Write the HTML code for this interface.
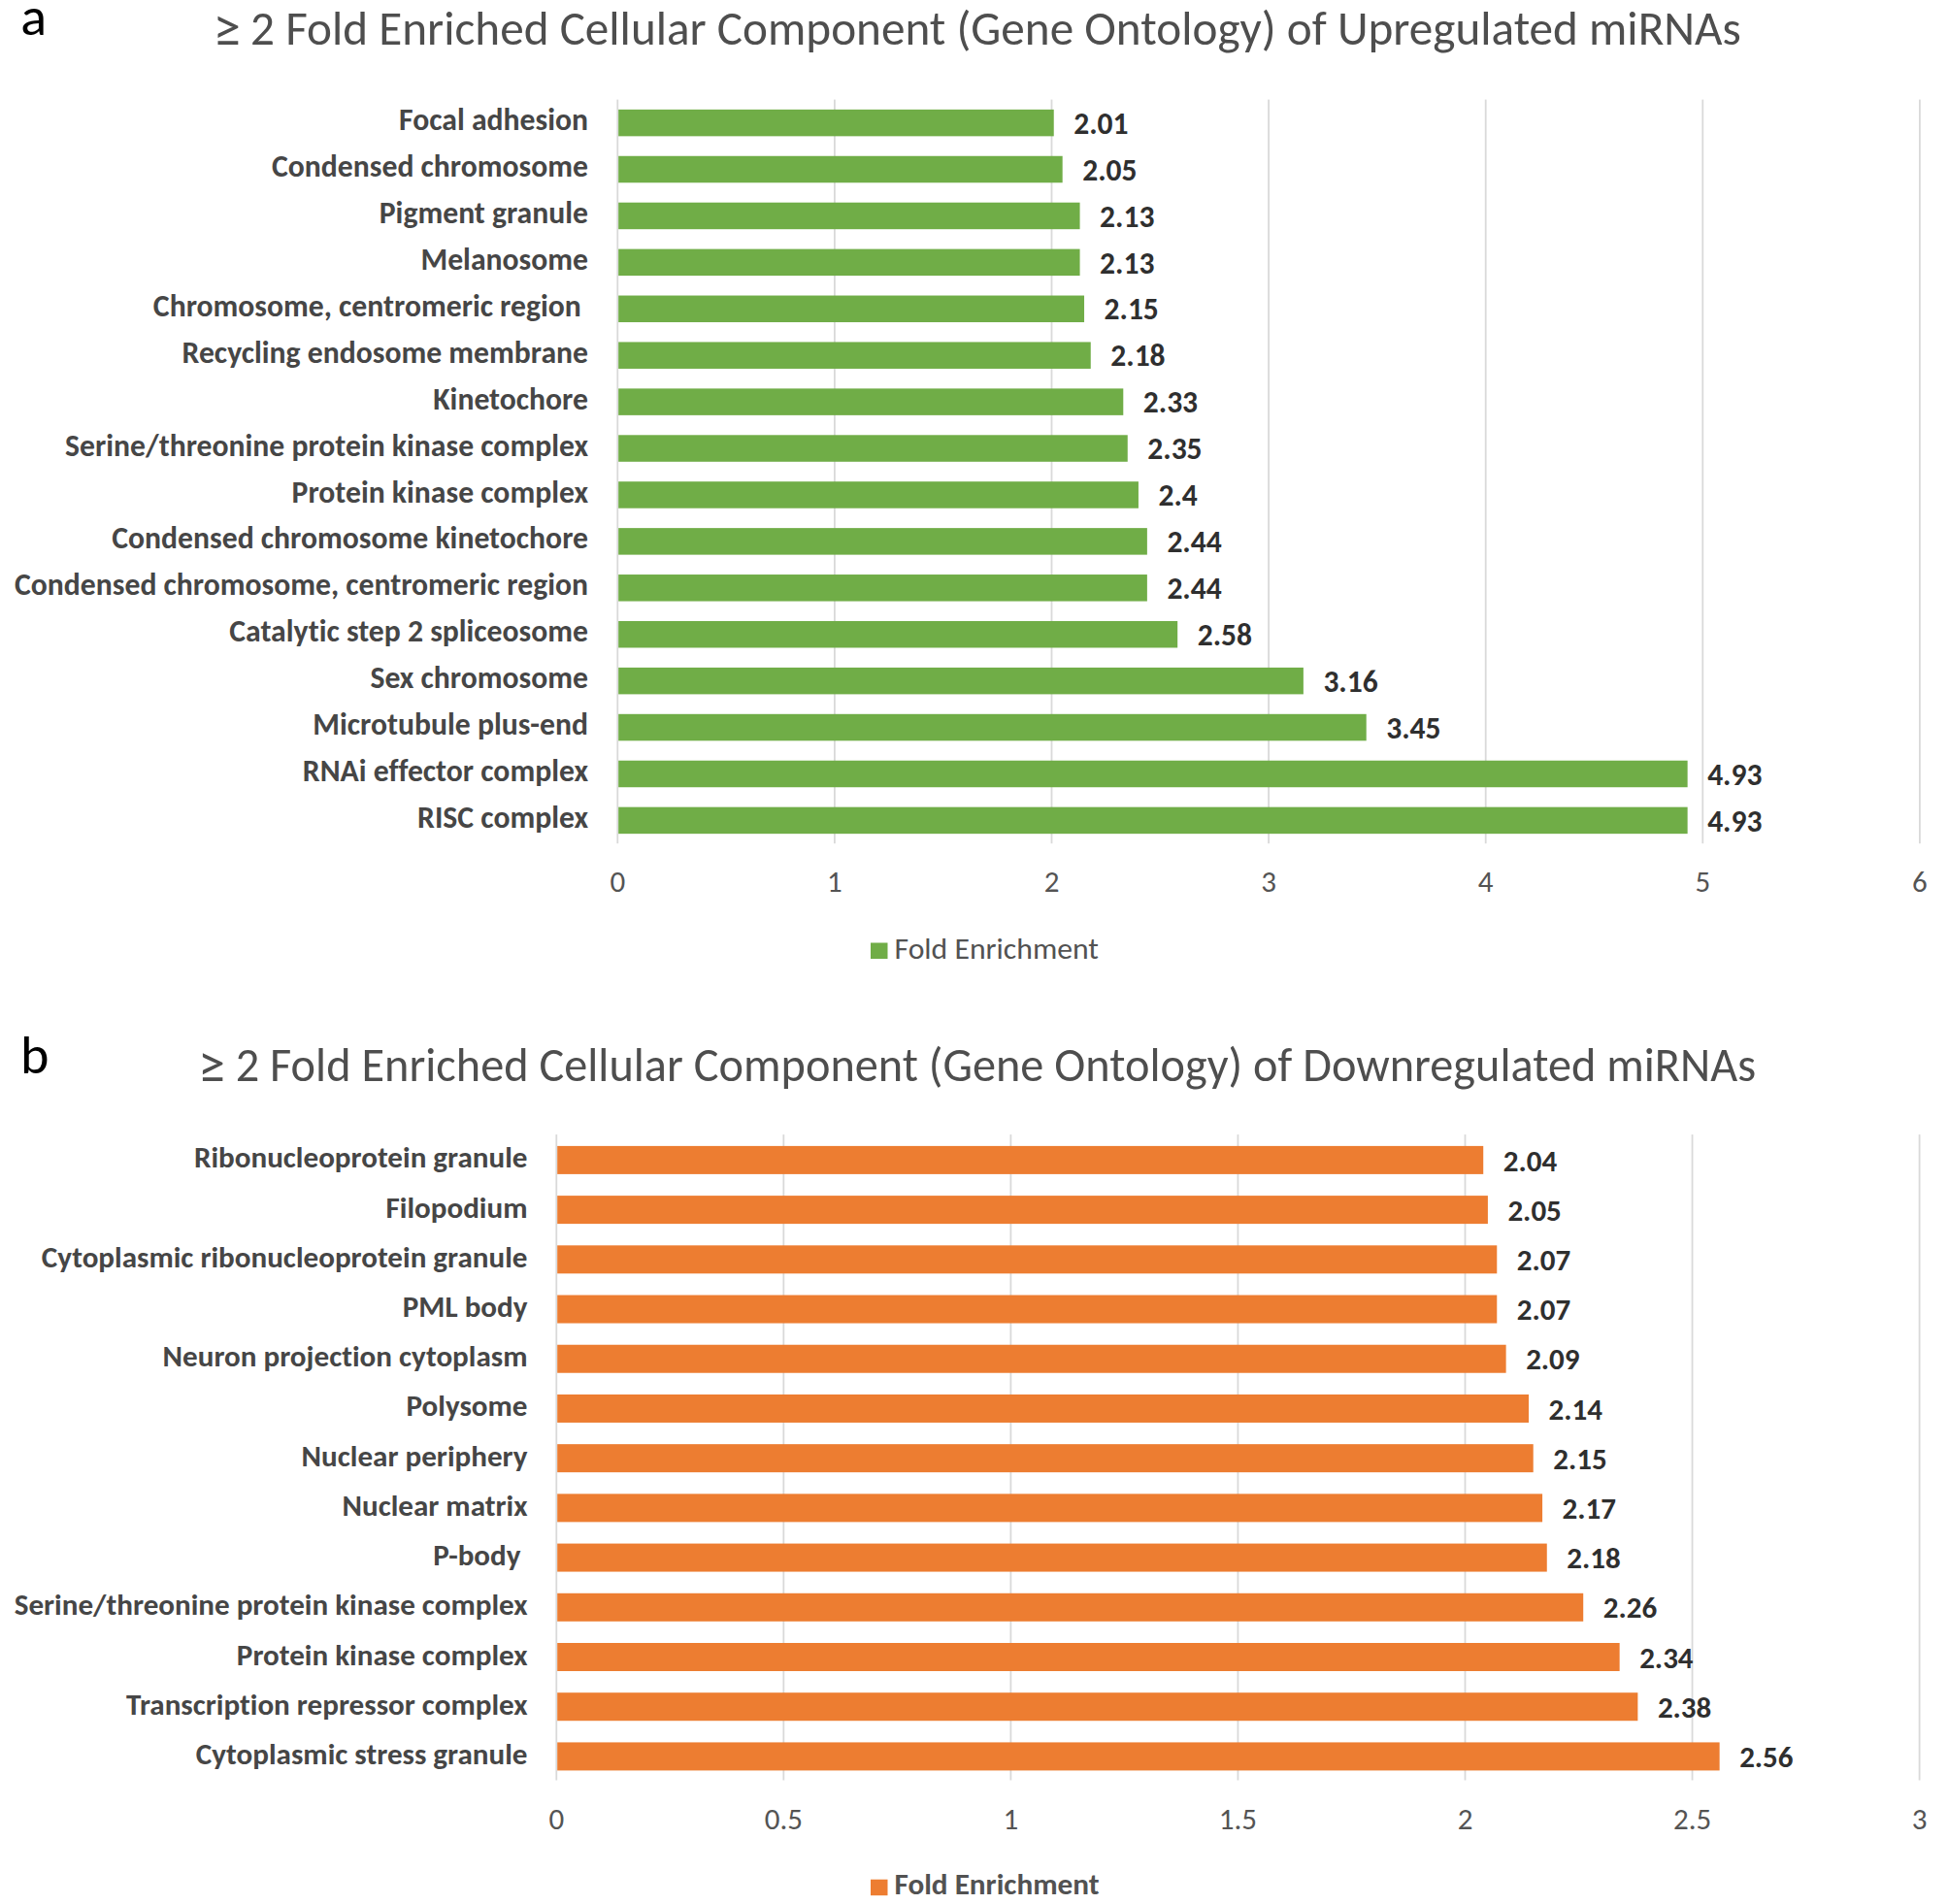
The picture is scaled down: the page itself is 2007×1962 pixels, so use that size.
<!DOCTYPE html>
<html><head><meta charset="utf-8"><title>Fold Enriched Cellular Component</title>
<style>
html,body{margin:0;padding:0;background:#fff;}
body{width:2007px;height:1962px;overflow:hidden;}
svg{display:block;}
text{font-family:Carlito, 'Liberation Sans', sans-serif;font-variant-ligatures:none;font-kerning:normal;}
.lbl{font-size:31px;font-weight:bold;fill:#464646;}
.val{font-size:31px;font-weight:bold;fill:#2f2f2f;}
.tick{font-size:31px;fill:#545454;}
.title{font-size:48px;fill:#4e4e4e;}
.leg{font-size:31px;fill:#525252;}
.panel{font-size:56px;fill:#000;}
</style></head>
<body>
<svg width="2007" height="1962" viewBox="0 0 2007 1962">
<rect width="2007" height="1962" fill="#fff"/>
<rect x="635.40" y="102.60" width="1.8" height="766.60" fill="#D9D9D9"/>
<rect x="859.00" y="102.60" width="1.8" height="766.60" fill="#D9D9D9"/>
<rect x="1082.60" y="102.60" width="1.8" height="766.60" fill="#D9D9D9"/>
<rect x="1306.20" y="102.60" width="1.8" height="766.60" fill="#D9D9D9"/>
<rect x="1529.80" y="102.60" width="1.8" height="766.60" fill="#D9D9D9"/>
<rect x="1753.40" y="102.60" width="1.8" height="766.60" fill="#D9D9D9"/>
<rect x="1977.00" y="102.60" width="1.8" height="766.60" fill="#D9D9D9"/>
<rect x="637.20" y="112.85" width="448.54" height="27.50" fill="#70AD47"/>
<text x="606.00" y="134.20" class="lbl" textLength="194.92" lengthAdjust="spacingAndGlyphs" style="font-size:31.7px" text-anchor="end" xml:space="preserve">Focal adhesion</text>
<text x="1106.24" y="137.80" class="val" textLength="56.31" lengthAdjust="spacingAndGlyphs" style="font-size:31.5px">2.01</text>
<rect x="637.20" y="160.77" width="457.48" height="27.50" fill="#70AD47"/>
<text x="606.00" y="182.12" class="lbl" textLength="325.94" lengthAdjust="spacingAndGlyphs" style="font-size:31.7px" text-anchor="end" xml:space="preserve">Condensed chromosome</text>
<text x="1115.18" y="185.72" class="val" textLength="56.31" lengthAdjust="spacingAndGlyphs" style="font-size:31.5px">2.05</text>
<rect x="637.20" y="208.69" width="475.37" height="27.50" fill="#70AD47"/>
<text x="606.00" y="230.04" class="lbl" textLength="215.25" lengthAdjust="spacingAndGlyphs" style="font-size:31.7px" text-anchor="end" xml:space="preserve">Pigment granule</text>
<text x="1133.07" y="233.64" class="val" textLength="56.31" lengthAdjust="spacingAndGlyphs" style="font-size:31.5px">2.13</text>
<rect x="637.20" y="256.61" width="475.37" height="27.50" fill="#70AD47"/>
<text x="606.00" y="277.96" class="lbl" textLength="172.53" lengthAdjust="spacingAndGlyphs" style="font-size:31.7px" text-anchor="end" xml:space="preserve">Melanosome</text>
<text x="1133.07" y="281.56" class="val" textLength="56.31" lengthAdjust="spacingAndGlyphs" style="font-size:31.5px">2.13</text>
<rect x="637.20" y="304.53" width="479.84" height="27.50" fill="#70AD47"/>
<text x="606.00" y="325.88" class="lbl" textLength="448.14" lengthAdjust="spacingAndGlyphs" style="font-size:31.7px" text-anchor="end" xml:space="preserve">Chromosome, centromeric region </text>
<text x="1137.54" y="329.48" class="val" textLength="56.31" lengthAdjust="spacingAndGlyphs" style="font-size:31.5px">2.15</text>
<rect x="637.20" y="352.45" width="486.55" height="27.50" fill="#70AD47"/>
<text x="606.00" y="373.80" class="lbl" textLength="418.45" lengthAdjust="spacingAndGlyphs" style="font-size:31.7px" text-anchor="end" xml:space="preserve">Recycling endosome membrane</text>
<text x="1144.25" y="377.40" class="val" textLength="56.31" lengthAdjust="spacingAndGlyphs" style="font-size:31.5px">2.18</text>
<rect x="637.20" y="400.37" width="520.09" height="27.50" fill="#70AD47"/>
<text x="606.00" y="421.72" class="lbl" textLength="159.73" lengthAdjust="spacingAndGlyphs" style="font-size:31.7px" text-anchor="end" xml:space="preserve">Kinetochore</text>
<text x="1177.79" y="425.32" class="val" textLength="56.31" lengthAdjust="spacingAndGlyphs" style="font-size:31.5px">2.33</text>
<rect x="637.20" y="448.29" width="524.56" height="27.50" fill="#70AD47"/>
<text x="606.00" y="469.64" class="lbl" textLength="538.88" lengthAdjust="spacingAndGlyphs" style="font-size:31.7px" text-anchor="end" xml:space="preserve">Serine/threonine protein kinase complex</text>
<text x="1182.26" y="473.24" class="val" textLength="56.31" lengthAdjust="spacingAndGlyphs" style="font-size:31.5px">2.35</text>
<rect x="637.20" y="496.21" width="535.74" height="27.50" fill="#70AD47"/>
<text x="606.00" y="517.56" class="lbl" textLength="305.41" lengthAdjust="spacingAndGlyphs" style="font-size:31.7px" text-anchor="end" xml:space="preserve">Protein kinase complex</text>
<text x="1193.44" y="521.16" class="val" textLength="40.36" lengthAdjust="spacingAndGlyphs" style="font-size:31.5px">2.4</text>
<rect x="637.20" y="544.13" width="544.68" height="27.50" fill="#70AD47"/>
<text x="606.00" y="565.48" class="lbl" textLength="490.70" lengthAdjust="spacingAndGlyphs" style="font-size:31.7px" text-anchor="end" xml:space="preserve">Condensed chromosome kinetochore</text>
<text x="1202.38" y="569.08" class="val" textLength="56.31" lengthAdjust="spacingAndGlyphs" style="font-size:31.5px">2.44</text>
<rect x="637.20" y="592.05" width="544.68" height="27.50" fill="#70AD47"/>
<text x="606.00" y="613.40" class="lbl" textLength="590.98" lengthAdjust="spacingAndGlyphs" style="font-size:31.7px" text-anchor="end" xml:space="preserve">Condensed chromosome, centromeric region</text>
<text x="1202.38" y="617.00" class="val" textLength="56.31" lengthAdjust="spacingAndGlyphs" style="font-size:31.5px">2.44</text>
<rect x="637.20" y="639.97" width="575.99" height="27.50" fill="#70AD47"/>
<text x="606.00" y="661.32" class="lbl" textLength="369.67" lengthAdjust="spacingAndGlyphs" style="font-size:31.7px" text-anchor="end" xml:space="preserve">Catalytic step 2 spliceosome</text>
<text x="1233.69" y="664.92" class="val" textLength="56.31" lengthAdjust="spacingAndGlyphs" style="font-size:31.5px">2.58</text>
<rect x="637.20" y="687.89" width="705.68" height="27.50" fill="#70AD47"/>
<text x="606.00" y="709.24" class="lbl" textLength="224.56" lengthAdjust="spacingAndGlyphs" style="font-size:31.7px" text-anchor="end" xml:space="preserve">Sex chromosome</text>
<text x="1363.38" y="712.84" class="val" textLength="56.31" lengthAdjust="spacingAndGlyphs" style="font-size:31.5px">3.16</text>
<rect x="637.20" y="735.81" width="770.52" height="27.50" fill="#70AD47"/>
<text x="606.00" y="757.16" class="lbl" textLength="283.64" lengthAdjust="spacingAndGlyphs" style="font-size:31.7px" text-anchor="end" xml:space="preserve">Microtubule plus-end</text>
<text x="1428.22" y="760.76" class="val" textLength="56.31" lengthAdjust="spacingAndGlyphs" style="font-size:31.5px">3.45</text>
<rect x="637.20" y="783.73" width="1101.45" height="27.50" fill="#70AD47"/>
<text x="606.00" y="805.08" class="lbl" textLength="294.16" lengthAdjust="spacingAndGlyphs" style="font-size:31.7px" text-anchor="end" xml:space="preserve">RNAi effector complex</text>
<text x="1759.15" y="808.68" class="val" textLength="56.31" lengthAdjust="spacingAndGlyphs" style="font-size:31.5px">4.93</text>
<rect x="637.20" y="831.65" width="1101.45" height="27.50" fill="#70AD47"/>
<text x="606.00" y="853.00" class="lbl" textLength="175.92" lengthAdjust="spacingAndGlyphs" style="font-size:31.7px" text-anchor="end" xml:space="preserve">RISC complex</text>
<text x="1759.15" y="856.60" class="val" textLength="56.31" lengthAdjust="spacingAndGlyphs" style="font-size:31.5px">4.93</text>
<text x="636.30" y="919.20" class="tick" textLength="15.72" lengthAdjust="spacingAndGlyphs" text-anchor="middle">0</text>
<text x="859.90" y="919.20" class="tick" textLength="15.72" lengthAdjust="spacingAndGlyphs" text-anchor="middle">1</text>
<text x="1083.50" y="919.20" class="tick" textLength="15.72" lengthAdjust="spacingAndGlyphs" text-anchor="middle">2</text>
<text x="1307.10" y="919.20" class="tick" textLength="15.72" lengthAdjust="spacingAndGlyphs" text-anchor="middle">3</text>
<text x="1530.70" y="919.20" class="tick" textLength="15.72" lengthAdjust="spacingAndGlyphs" text-anchor="middle">4</text>
<text x="1754.30" y="919.20" class="tick" textLength="15.72" lengthAdjust="spacingAndGlyphs" text-anchor="middle">5</text>
<text x="1977.90" y="919.20" class="tick" textLength="15.72" lengthAdjust="spacingAndGlyphs" text-anchor="middle">6</text>
<text class="title" xml:space="preserve" style="font-size:49.2px"><tspan textLength="41.28" lengthAdjust="spacingAndGlyphs" x="219.60" y="48.00" style="font-size:57px">≥ </tspan><tspan textLength="1535.70" lengthAdjust="spacingAndGlyphs" x="258.10" y="45.70">2 Fold Enriched Cellular Component (Gene Ontology) of Upregulated miRNAs</tspan></text>
<text x="21.20" y="36.40" class="panel" textLength="26.83" lengthAdjust="spacingAndGlyphs">a</text>
<rect x="897" y="971.50" width="17.5" height="16.5" fill="#70AD47"/>
<text x="921.5" y="987.70" class="leg" textLength="210.47" lengthAdjust="spacingAndGlyphs" style="font-size:31.7px" font-weight="normal">Fold Enrichment</text>
<rect x="572.40" y="1169.10" width="1.8" height="665.40" fill="#D9D9D9"/>
<rect x="806.45" y="1169.10" width="1.8" height="665.40" fill="#D9D9D9"/>
<rect x="1040.50" y="1169.10" width="1.8" height="665.40" fill="#D9D9D9"/>
<rect x="1274.55" y="1169.10" width="1.8" height="665.40" fill="#D9D9D9"/>
<rect x="1508.60" y="1169.10" width="1.8" height="665.40" fill="#D9D9D9"/>
<rect x="1742.65" y="1169.10" width="1.8" height="665.40" fill="#D9D9D9"/>
<rect x="1976.70" y="1169.10" width="1.8" height="665.40" fill="#D9D9D9"/>
<rect x="574.20" y="1180.90" width="954.02" height="29.00" fill="#ED7D31"/>
<text x="543.50" y="1203.40" class="lbl" textLength="343.55" lengthAdjust="spacingAndGlyphs" style="font-size:31.1px" text-anchor="end" xml:space="preserve">Ribonucleoprotein granule</text>
<text x="1548.72" y="1206.60" class="val" textLength="55.42" lengthAdjust="spacingAndGlyphs" style="font-size:31.0px">2.04</text>
<rect x="574.20" y="1232.11" width="958.71" height="29.00" fill="#ED7D31"/>
<text x="543.50" y="1254.61" class="lbl" textLength="145.97" lengthAdjust="spacingAndGlyphs" style="font-size:31.1px" text-anchor="end" xml:space="preserve">Filopodium</text>
<text x="1553.40" y="1257.81" class="val" textLength="55.42" lengthAdjust="spacingAndGlyphs" style="font-size:31.0px">2.05</text>
<rect x="574.20" y="1283.32" width="968.07" height="29.00" fill="#ED7D31"/>
<text x="543.50" y="1305.82" class="lbl" textLength="500.67" lengthAdjust="spacingAndGlyphs" style="font-size:31.1px" text-anchor="end" xml:space="preserve">Cytoplasmic ribonucleoprotein granule</text>
<text x="1562.77" y="1309.02" class="val" textLength="55.42" lengthAdjust="spacingAndGlyphs" style="font-size:31.0px">2.07</text>
<rect x="574.20" y="1334.53" width="968.07" height="29.00" fill="#ED7D31"/>
<text x="543.50" y="1357.03" class="lbl" textLength="128.72" lengthAdjust="spacingAndGlyphs" style="font-size:31.1px" text-anchor="end" xml:space="preserve">PML body</text>
<text x="1562.77" y="1360.23" class="val" textLength="55.42" lengthAdjust="spacingAndGlyphs" style="font-size:31.0px">2.07</text>
<rect x="574.20" y="1385.74" width="977.43" height="29.00" fill="#ED7D31"/>
<text x="543.50" y="1408.24" class="lbl" textLength="375.91" lengthAdjust="spacingAndGlyphs" style="font-size:31.1px" text-anchor="end" xml:space="preserve">Neuron projection cytoplasm</text>
<text x="1572.13" y="1411.44" class="val" textLength="55.42" lengthAdjust="spacingAndGlyphs" style="font-size:31.0px">2.09</text>
<rect x="574.20" y="1436.95" width="1000.83" height="29.00" fill="#ED7D31"/>
<text x="543.50" y="1459.45" class="lbl" textLength="125.00" lengthAdjust="spacingAndGlyphs" style="font-size:31.1px" text-anchor="end" xml:space="preserve">Polysome</text>
<text x="1595.53" y="1462.65" class="val" textLength="55.42" lengthAdjust="spacingAndGlyphs" style="font-size:31.0px">2.14</text>
<rect x="574.20" y="1488.16" width="1005.51" height="29.00" fill="#ED7D31"/>
<text x="543.50" y="1510.66" class="lbl" textLength="232.88" lengthAdjust="spacingAndGlyphs" style="font-size:31.1px" text-anchor="end" xml:space="preserve">Nuclear periphery</text>
<text x="1600.21" y="1513.86" class="val" textLength="55.42" lengthAdjust="spacingAndGlyphs" style="font-size:31.0px">2.15</text>
<rect x="574.20" y="1539.37" width="1014.88" height="29.00" fill="#ED7D31"/>
<text x="543.50" y="1561.87" class="lbl" textLength="191.02" lengthAdjust="spacingAndGlyphs" style="font-size:31.1px" text-anchor="end" xml:space="preserve">Nuclear matrix</text>
<text x="1609.58" y="1565.07" class="val" textLength="55.42" lengthAdjust="spacingAndGlyphs" style="font-size:31.0px">2.17</text>
<rect x="574.20" y="1590.58" width="1019.56" height="29.00" fill="#ED7D31"/>
<text x="543.50" y="1613.08" class="lbl" textLength="97.23" lengthAdjust="spacingAndGlyphs" style="font-size:31.1px" text-anchor="end" xml:space="preserve">P-body </text>
<text x="1614.26" y="1616.28" class="val" textLength="55.42" lengthAdjust="spacingAndGlyphs" style="font-size:31.0px">2.18</text>
<rect x="574.20" y="1641.79" width="1057.01" height="29.00" fill="#ED7D31"/>
<text x="543.50" y="1664.29" class="lbl" textLength="528.78" lengthAdjust="spacingAndGlyphs" style="font-size:31.1px" text-anchor="end" xml:space="preserve">Serine/threonine protein kinase complex</text>
<text x="1651.71" y="1667.49" class="val" textLength="55.42" lengthAdjust="spacingAndGlyphs" style="font-size:31.0px">2.26</text>
<rect x="574.20" y="1693.00" width="1094.45" height="29.00" fill="#ED7D31"/>
<text x="543.50" y="1715.50" class="lbl" textLength="299.67" lengthAdjust="spacingAndGlyphs" style="font-size:31.1px" text-anchor="end" xml:space="preserve">Protein kinase complex</text>
<text x="1689.15" y="1718.70" class="val" textLength="55.42" lengthAdjust="spacingAndGlyphs" style="font-size:31.0px">2.34</text>
<rect x="574.20" y="1744.21" width="1113.18" height="29.00" fill="#ED7D31"/>
<text x="543.50" y="1766.71" class="lbl" textLength="413.38" lengthAdjust="spacingAndGlyphs" style="font-size:31.1px" text-anchor="end" xml:space="preserve">Transcription repressor complex</text>
<text x="1707.88" y="1769.91" class="val" textLength="55.42" lengthAdjust="spacingAndGlyphs" style="font-size:31.0px">2.38</text>
<rect x="574.20" y="1795.42" width="1197.44" height="29.00" fill="#ED7D31"/>
<text x="543.50" y="1817.92" class="lbl" textLength="341.73" lengthAdjust="spacingAndGlyphs" style="font-size:31.1px" text-anchor="end" xml:space="preserve">Cytoplasmic stress granule</text>
<text x="1792.14" y="1821.12" class="val" textLength="55.42" lengthAdjust="spacingAndGlyphs" style="font-size:31.0px">2.56</text>
<text x="573.30" y="1884.80" class="tick" textLength="15.72" lengthAdjust="spacingAndGlyphs" text-anchor="middle">0</text>
<text x="807.35" y="1884.80" class="tick" textLength="39.25" lengthAdjust="spacingAndGlyphs" text-anchor="middle">0.5</text>
<text x="1041.40" y="1884.80" class="tick" textLength="15.72" lengthAdjust="spacingAndGlyphs" text-anchor="middle">1</text>
<text x="1275.45" y="1884.80" class="tick" textLength="39.25" lengthAdjust="spacingAndGlyphs" text-anchor="middle">1.5</text>
<text x="1509.50" y="1884.80" class="tick" textLength="15.72" lengthAdjust="spacingAndGlyphs" text-anchor="middle">2</text>
<text x="1743.55" y="1884.80" class="tick" textLength="39.25" lengthAdjust="spacingAndGlyphs" text-anchor="middle">2.5</text>
<text x="1977.60" y="1884.80" class="tick" textLength="15.72" lengthAdjust="spacingAndGlyphs" text-anchor="middle">3</text>
<text class="title" xml:space="preserve" style="font-size:48.3px"><tspan textLength="40.56" lengthAdjust="spacingAndGlyphs" x="204.10" y="1115.90" style="font-size:56px">≥ </tspan><tspan textLength="1566.42" lengthAdjust="spacingAndGlyphs" x="242.70" y="1114.00">2 Fold Enriched Cellular Component (Gene Ontology) of Downregulated miRNAs</tspan></text>
<text x="21.00" y="1106.20" class="panel" textLength="29.42" lengthAdjust="spacingAndGlyphs">b</text>
<rect x="897" y="1936.70" width="17.5" height="16.5" fill="#ED7D31"/>
<text x="921.5" y="1951.90" class="leg" textLength="210.97" lengthAdjust="spacingAndGlyphs" style="font-size:31.2px" font-weight="bold">Fold Enrichment</text>
</svg>
</body></html>
